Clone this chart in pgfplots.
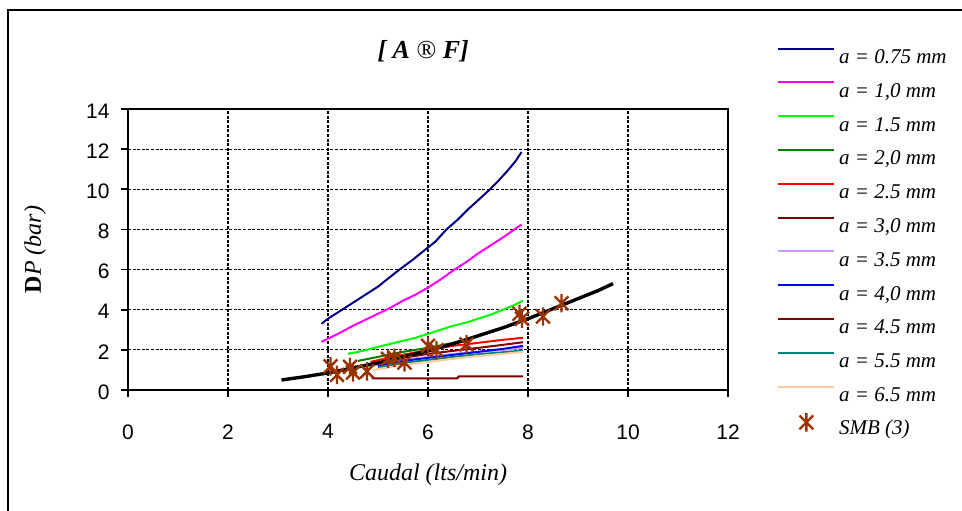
\documentclass[border=0pt]{standalone}
\usepackage{fontspec}
\setmainfont{Liberation Serif}
\newfontfamily\arialfont{Liberation Sans}
\usepackage{pgfplots}
\pgfplotsset{compat=1.18}

% series colours
\definecolor{cNavy}{RGB}{0,0,128}
\definecolor{cMagenta}{RGB}{255,0,255}
\definecolor{cLime}{RGB}{0,255,0}
\definecolor{cGreen}{RGB}{0,128,0}
\definecolor{cRed}{RGB}{255,0,0}
\definecolor{cMaroon}{RGB}{128,0,0}
\definecolor{cLavender}{RGB}{204,153,255}
\definecolor{cBlue}{RGB}{0,0,255}
\definecolor{cTeal}{RGB}{0,128,128}
\definecolor{cPeach}{RGB}{255,204,153}
\definecolor{cSMB}{RGB}{153,51,0}

% asterisk made of a vertical bar and an X
\pgfdeclareplotmark{xast}{%
  \pgfpathmoveto{\pgfqpoint{0pt}{\pgfplotmarksize}}%
  \pgfpathlineto{\pgfqpoint{0pt}{-\pgfplotmarksize}}%
  \pgfpathmoveto{\pgfqpoint{-0.75\pgfplotmarksize}{0.75\pgfplotmarksize}}%
  \pgfpathlineto{\pgfqpoint{0.75\pgfplotmarksize}{-0.75\pgfplotmarksize}}%
  \pgfpathmoveto{\pgfqpoint{-0.75\pgfplotmarksize}{-0.75\pgfplotmarksize}}%
  \pgfpathlineto{\pgfqpoint{0.75\pgfplotmarksize}{0.75\pgfplotmarksize}}%
  \pgfusepathqstroke}

\pgfplotsset{
  smb legend/.style={legend image code/.code={%
    \path[draw=none] (0bp,0bp) rectangle (28bp,5bp);
    \draw[##1, overlay] plot coordinates {(14bp,3.5bp)};}},
}

\begin{document}
\begin{tikzpicture}
\useasboundingbox (0,0) rectangle (481bp,255.5bp);
% outer chart frame
\draw[line width=1bp] (4bp,-10bp) -- (4bp,250.5bp) -- (500bp,250.5bp);

\begin{axis}[
  at={(64bp,60.5bp)}, anchor=south west,
  scale only axis, width=300bp, height=140.5bp,
  xmin=0, xmax=12, ymin=0, ymax=14,
  xtick={0,2,...,12}, ytick={0,2,...,14},
  tick pos=left, tick align=outside, major tick length=3.5bp,
  tick style={black, line width=0.8bp},
  axis line style={line width=1.1bp},
  grid=major,
  major grid style={black, line width=0.6bp, dash pattern=on 1.5bp off 0.8bp},
  /pgf/number format/assume math mode=true,
  tick label style={font=\arialfont\fontsize{10.5bp}{12bp}\selectfont},
  xticklabel style={anchor=north, inner sep=0pt, yshift=-13.5bp},
  yticklabel style={anchor=east, inner sep=0pt, xshift=-5.5bp, yshift=-1bp},
  title={[ A {\normalfont ®} F]},
  title style={at={(axis description cs:0.492,1.164)}, anchor=center,
    font=\fontsize{13bp}{15bp}\selectfont\bfseries\itshape},
  xlabel={Caudal (lts/min)},
  xlabel style={at={(axis description cs:0.5,-0.302)}, anchor=center,
    font=\fontsize{12bp}{14bp}\selectfont\itshape},
  ylabel={{\bfseries D}\textit{P (bar)}},
  ylabel style={at={(axis description cs:-0.155,0.5)}, anchor=center,
    font=\fontsize{12bp}{14bp}\selectfont},
  legend style={at={(axis description cs:1.0817,1.22)}, anchor=north west,
    draw=none, fill=none, inner sep=0pt, row sep=6.5bp, column sep=1.85bp,
    font=\fontsize{10.5bp}{12bp}\selectfont\itshape,
    nodes={inner sep=0pt, text height=7.4bp, text depth=2.4bp, anchor=west}},
  legend cell align=left,
  legend image code/.code={\draw[#1, line width=1bp] (0bp,5bp) -- (28bp,5bp);},
  every axis plot/.append style={line width=1bp},
]

\addplot[cNavy] coordinates {(3.87,3.3) (4.0,3.55) (4.25,3.95) (4.5,4.35) (4.75,4.75) (5.0,5.15) (5.2,5.55) (5.43,6.0) (5.7,6.5) (6.0,7.1) (6.15,7.4) (6.37,8.0) (6.6,8.5) (6.8,9.0) (7.0,9.45) (7.24,10.0) (7.4,10.4) (7.6,10.95) (7.75,11.4) (7.87,11.85)};
\addlegendentry{a = 0.75 mm}

\addplot[cMagenta] coordinates {(3.87,2.4) (4.2,2.8) (4.5,3.2) (4.75,3.5) (5.0,3.8) (5.25,4.1) (5.5,4.45) (5.75,4.75) (6.0,5.1) (6.25,5.5) (6.5,5.95) (6.75,6.35) (7.0,6.8) (7.25,7.2) (7.5,7.6) (7.7,7.95) (7.87,8.25)};
\addlegendentry{a = 1,0 mm}

\addplot[cLime] coordinates {(4.4,1.8) (4.7,1.95) (5.0,2.15) (5.25,2.3) (5.5,2.45) (5.75,2.6) (6.0,2.8) (6.25,3.0) (6.5,3.2) (6.75,3.35) (7.0,3.55) (7.25,3.75) (7.5,4.0) (7.7,4.2) (7.9,4.45)};
\addlegendentry{a = 1.5 mm}

\addplot[cGreen] coordinates {(4.6,1.45) (5.0,1.65) (5.5,1.9) (6.0,2.1) (6.5,2.35) (6.8,2.55) (7.2,2.85) (7.6,3.2) (7.9,3.5)};
\addlegendentry{a = 2,0 mm}

\addplot[cRed] coordinates {(4.85,1.4) (5.2,1.6) (5.5,1.75) (6.0,2.0) (6.5,2.2) (7.0,2.35) (7.5,2.5) (7.9,2.6)};
\addlegendentry{a = 2.5 mm}

\addplot[cMaroon] coordinates {(5.0,1.35) (5.5,1.6) (6.0,1.8) (6.5,1.95) (7.0,2.1) (7.5,2.25) (7.9,2.38)};
\addlegendentry{a = 3,0 mm}

\addplot[cLavender] coordinates {(4.9,1.2) (5.5,1.5) (6.0,1.65) (6.5,1.8) (7.0,1.9) (7.5,2.0) (7.9,2.1)};
\addlegendentry{a = 3.5 mm}

\addplot[cBlue] coordinates {(5.0,1.2) (5.5,1.45) (6.0,1.6) (6.5,1.75) (7.0,1.9) (7.5,2.05) (7.9,2.2)};
\addlegendentry{a = 4,0 mm}

\addplot[cMaroon] coordinates {(4.87,0.58) (5.5,0.58) (6.0,0.58) (6.58,0.58) (6.62,0.68) (7.2,0.68) (7.9,0.68)};
\addlegendentry{a = 4.5 mm}

\addplot[cTeal] coordinates {(5.0,1.1) (5.5,1.35) (6.0,1.5) (6.5,1.65) (7.0,1.78) (7.5,1.88) (7.9,1.97)};
\addlegendentry{a = 5.5 mm}

\addplot[cPeach] coordinates {(4.9,1.0) (5.5,1.25) (6.0,1.4) (6.5,1.55) (7.0,1.7) (7.5,1.8) (7.9,1.9)};
\addlegendentry{a = 6.5 mm}

% fitted curve through the SMB points
\addplot[black, line width=1.7bp, forget plot] coordinates {(3.07,0.5) (3.5,0.65) (4.0,0.85) (4.5,1.1) (5.0,1.35) (5.5,1.65) (6.0,1.95) (6.5,2.3) (7.0,2.7) (7.5,3.1) (8.0,3.55) (8.5,4.05) (9.0,4.55) (9.4,4.95) (9.7,5.3)};

\addplot[cSMB, only marks, mark=xast, mark size=4.6bp, line width=1.2bp, smb legend]
  coordinates {(4.05,1.18) (4.18,0.75) (4.44,1.15) (4.5,0.87) (4.78,0.93) (5.2,1.55) (5.33,1.6) (5.53,1.37) (6.0,2.2) (6.17,1.98) (6.77,2.27) (7.83,3.8) (7.88,3.55) (8.3,3.66) (8.67,4.32)};
\addlegendentry{\normalfont\itshape SMB (3)}

\end{axis}
\end{tikzpicture}
\end{document}
